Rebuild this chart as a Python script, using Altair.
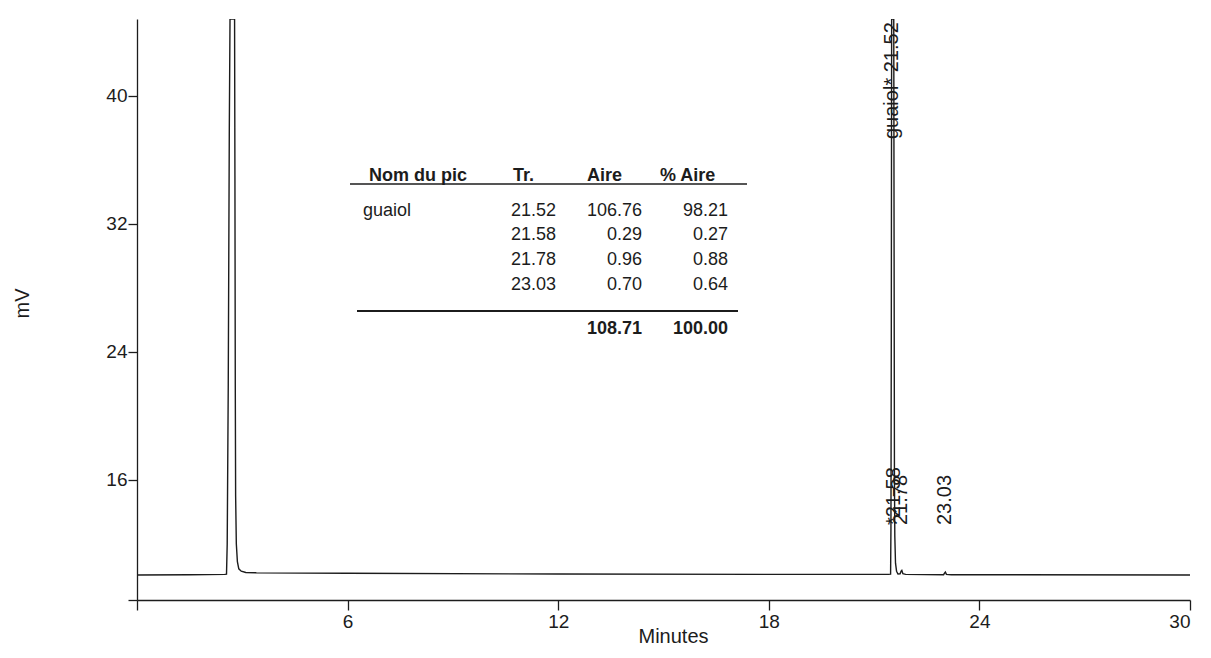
import altair as alt
import pandas as pd

# ---- chromatogram trace (minutes, mV) ----
trace_time = [0.0, 1.5, 2.50, 2.55, 2.57, 2.60, 2.63, 2.65, 2.78, 2.79, 2.80, 2.81, 2.83, 2.86, 2.90,
              2.97, 3.10, 3.40, 6.0, 12.0, 18.0, 21.40, 21.47, 21.48, 21.49, 21.50, 21.56, 21.57,
              21.58, 21.59, 21.61, 21.64, 21.68, 21.74, 21.77, 21.79, 21.82, 21.90, 22.98, 23.01,
              23.03, 23.06, 23.20, 30.0]
trace_mv = [10.06, 10.08, 10.10, 10.12, 12.0, 22.0, 38.0, 44.8, 44.8, 35.0, 22.0, 15.0, 12.0, 10.9, 10.45,
            10.3, 10.22, 10.2, 10.17, 10.12, 10.10, 10.10, 10.12, 13.0, 25.0, 44.8, 44.8, 30.0,
            16.0, 12.5, 10.8, 10.3, 10.12, 10.14, 10.3, 10.35, 10.14, 10.1, 10.08, 10.2,
            10.25, 10.1, 10.08, 10.06]

# ---- peak annotations ----
peak_times = [21.52, 21.58, 21.78, 23.03]
peak_labels = ["guaiol* 21.52", "*21.58", "21.78", "23.03"]

# ---- results table ----
table_headers = ["Nom du pic", "Tr.", "Aire", "% Aire"]
table_names = ["guaiol", "", "", ""]
table_tr = [21.52, 21.58, 21.78, 23.03]
table_aire = [106.76, 0.29, 0.96, 0.70]
table_pct = [98.21, 0.27, 0.88, 0.64]
total_aire = 108.71
total_pct = 100.00

# ---- axes ----
x_ticks = [0, 6, 12, 18, 24, 30]
y_ticks = [8.5, 16, 24, 32, 40]
x_domain = [0, 30]
y_domain = [8.5, 44.8]

FONT = "Liberation Sans"
INK = "#1c1c1c"

trace = pd.DataFrame({"t": trace_time, "mv": trace_mv})
peaks = pd.DataFrame({"t": peak_times, "label": peak_labels})
one = pd.DataFrame({"k": [0]})

line = alt.Chart(trace).mark_line(color=INK, strokeWidth=1.4, clip=True).encode(
    x=alt.X("t:Q", scale=alt.Scale(domain=x_domain, nice=False, zero=False),
            axis=alt.Axis(values=x_ticks, title="Minutes", format="d",
                          labelExpr="datum.value == 0 ? '' : datum.label",
                          tickSize=10, labelPadding=2, titleX=536, titleY=46,
                          titleBaseline="bottom")),
    y=alt.Y("mv:Q", scale=alt.Scale(domain=y_domain, nice=False, zero=False),
            axis=alt.Axis(values=y_ticks, title="mV", format="d",
                          labelExpr="datum.value < 10 ? '' : datum.label",
                          tickSize=9, labelPadding=1,
                          titleAngle=270, titleX=-115, titleY=284,
                          titleAlign="center", titleBaseline="middle")),
)

top_label = alt.Chart(peaks.iloc[:1]).mark_text(
    angle=270, align="left", baseline="middle", fontSize=20, font=FONT, color=INK
).encode(x="t:Q", y=alt.value(120), text="label:N")

small_labels = alt.Chart(peaks.iloc[1:]).mark_text(
    angle=270, align="left", baseline="middle", fontSize=20, font=FONT, color=INK
).encode(x="t:Q", y=alt.value(506), text="label:N")


def txt(text, x, y, align="left", bold=False, lh=None):
    kw = dict(text=text, align=align, baseline="alphabetic", fontSize=18, font=FONT,
              fontWeight="bold" if bold else "normal", color=INK)
    if lh is not None:
        kw["lineHeight"] = lh
    return alt.Chart(one).mark_text(**kw).encode(x=alt.value(x), y=alt.value(y))


def rule(x1, x2, y, w):
    return alt.Chart(one).mark_rule(color=INK, strokeWidth=w).encode(
        x=alt.value(x1), x2=alt.value(x2), y=alt.value(y))


fmt = lambda v: f"{v:.2f}"
ROW_H = 24.7
header_x = [232, 376, 450, 523]
layers = [line, top_label, small_labels]
for h, hx in zip(table_headers, header_x):
    layers.append(txt(h, hx, 162, bold=True))
layers.append(rule(213, 610, 165, 1.3))
layers.append(txt(table_names, 226, 196.5, lh=ROW_H))
layers.append(txt([fmt(v) for v in table_tr], 419, 196.5, align="right", lh=ROW_H))
layers.append(txt([fmt(v) for v in table_aire], 505, 196.5, align="right", lh=ROW_H))
layers.append(txt([fmt(v) for v in table_pct], 591, 196.5, align="right", lh=ROW_H))
layers.append(rule(220, 601, 292, 2.2))
layers.append(txt(fmt(total_aire), 505, 314.5, align="right", bold=True))
layers.append(txt(fmt(total_pct), 591, 314.5, align="right", bold=True))

chart = alt.layer(*layers).properties(
    width=1053, height=581,
    padding={"left": 129, "top": 11, "right": 11, "bottom": 48},
    autosize=alt.AutoSizeParams(type="none"),
    background="white",
).configure_view(stroke=None).configure_axis(
    grid=False, domainColor=INK, domainWidth=1.3, tickColor=INK, tickWidth=1.3,
    labelFont=FONT, labelFontSize=19, labelColor=INK,
    titleFont=FONT, titleFontSize=20, titleFontWeight="normal", titleColor=INK,
)

chart.save("out.html", embed_options={"renderer": "svg", "actions": False})
